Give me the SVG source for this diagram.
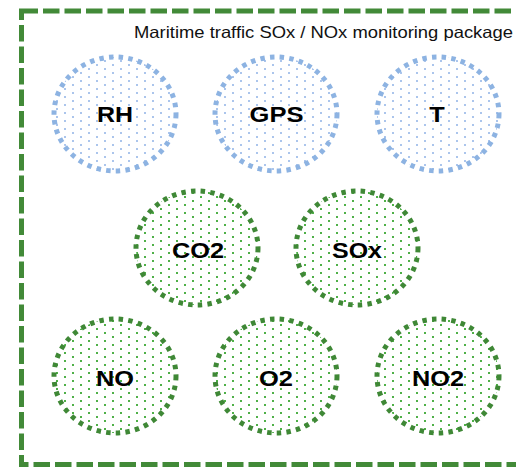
<svg xmlns="http://www.w3.org/2000/svg" width="516" height="467" viewBox="0 0 516 467">
<style>
.frame{fill:none;stroke:#428a38;stroke-width:5;stroke-dasharray:16.5 5}
.blue{fill:url(#dotsBlue);stroke:#8db3e2;stroke-width:5;stroke-dasharray:4.5 5.2}
.green{fill:url(#dotsGreen);stroke:#3f8836;stroke-width:5;stroke-dasharray:4.5 5.2}
.lbl{font-family:"Liberation Sans",Arial,sans-serif;font-weight:bold;font-size:22.5px;fill:#000;text-anchor:middle}
.title{font-family:"Liberation Sans",Arial,sans-serif;font-size:16.5px;fill:#111}
</style>
<defs>
<pattern id="dotsBlue" width="16" height="8" patternUnits="userSpaceOnUse">
<rect width="16" height="8" fill="#fff"/>
<rect x="0" y="0" width="2" height="2" fill="#abc5ec"/>
<rect x="8" y="4" width="2" height="2" fill="#abc5ec"/>
</pattern>
<pattern id="dotsGreen" width="16" height="8" patternUnits="userSpaceOnUse">
<rect width="16" height="8" fill="#fff"/>
<rect x="0" y="0" width="2" height="2" fill="#4fb048"/>
<rect x="8" y="4" width="2" height="2" fill="#4fb048"/>
</pattern>
</defs>
<rect width="516" height="467" fill="#fff"/>
<g id="package">
<rect class="frame" x="21.5" y="11" width="497" height="453.5"/>
<text class="title" x="134" y="38" textLength="379" lengthAdjust="spacingAndGlyphs">Maritime traffic SOx / NOx monitoring package</text>
</g>
<g id="connectors"/>
<g id="RH"><ellipse class="blue" cx="115" cy="114" rx="61" ry="57"/><text class="lbl" x="115" y="122" textLength="36" lengthAdjust="spacingAndGlyphs">RH</text></g>
<g id="GPS"><ellipse class="blue" cx="276" cy="114" rx="61" ry="57"/><text class="lbl" x="276.5" y="122" textLength="54" lengthAdjust="spacingAndGlyphs">GPS</text></g>
<g id="T"><ellipse class="blue" cx="438" cy="114" rx="61" ry="57"/><text class="lbl" x="437" y="122" textLength="15.5" lengthAdjust="spacingAndGlyphs">T</text></g>
<g id="CO2"><ellipse class="green" cx="197" cy="248" rx="61" ry="57"/><text class="lbl" x="198" y="258" textLength="52" lengthAdjust="spacingAndGlyphs">CO2</text></g>
<g id="SOx"><ellipse class="green" cx="357" cy="248" rx="61" ry="57"/><text class="lbl" x="357" y="258" textLength="50" lengthAdjust="spacingAndGlyphs">SOx</text></g>
<g id="NO"><ellipse class="green" cx="115" cy="376" rx="61" ry="57"/><text class="lbl" x="115" y="386" textLength="38" lengthAdjust="spacingAndGlyphs">NO</text></g>
<g id="O2"><ellipse class="green" cx="276" cy="376" rx="61" ry="57"/><text class="lbl" x="276" y="386" textLength="34" lengthAdjust="spacingAndGlyphs">O2</text></g>
<g id="NO2"><ellipse class="green" cx="438" cy="376" rx="61" ry="57"/><text class="lbl" x="438" y="386" textLength="52" lengthAdjust="spacingAndGlyphs">NO2</text></g>
</svg>
